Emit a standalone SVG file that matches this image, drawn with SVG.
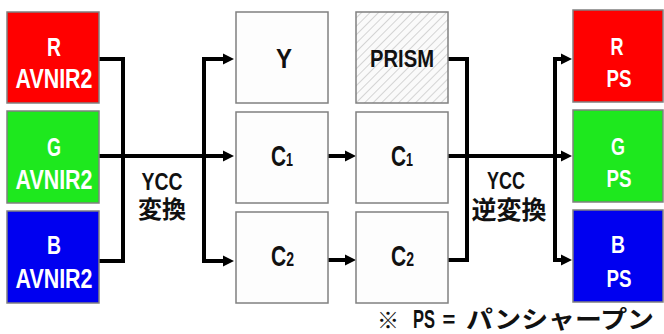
<svg xmlns="http://www.w3.org/2000/svg" width="664" height="334" viewBox="0 0 664 334">
<defs>
<style>
.box{stroke:#808080;stroke-width:1.5}
.wb{fill:#fdfdfd}
.r{fill:#ff0000}
.g{fill:#1ee81e}
.b{fill:#0000f0}
.wt{fill:#ffffff;font-family:"Liberation Sans",Arial,sans-serif;font-weight:bold;text-anchor:middle}
.kt{fill:#111111;font-family:"Liberation Sans",Arial,sans-serif;font-weight:bold;text-anchor:middle}
.cs{fill:#111111;font-family:"Liberation Sans",Arial,sans-serif;font-weight:bold;text-anchor:start;font-size:30px}
.jp{fill:#111111;font-family:"Noto Sans CJK JP","Noto Sans CJK SC",sans-serif;font-weight:bold;text-anchor:middle}
.ln{fill:none;stroke:#000;stroke-width:4;stroke-linejoin:miter}
.ar{marker-end:url(#ah)}
</style>
<marker id="ah" markerUnits="userSpaceOnUse" markerWidth="12" markerHeight="12" refX="4" refY="6" orient="auto">
<path d="M0,0.5 L11,6 L0,11.5 z" fill="#000"/>
</marker>
<pattern id="hatch" patternUnits="userSpaceOnUse" width="6" height="6" patternTransform="rotate(45)">
<rect width="6" height="6" fill="#fafafa"/>
<line x1="0" y1="0" x2="0" y2="6" stroke="#c4c4c4" stroke-width="1.4"/>
</pattern>
</defs>
<rect width="664" height="334" fill="#ffffff"/>

<g id="connectors">
<path class="ln" d="M99,59 H123 V261 H99"/>
<path class="ln ar" d="M99,156 H227"/>
<path class="ln ar" d="M204,156 V59 H227"/>
<path class="ln ar" d="M204,156 V261 H227"/>
<path class="ln ar" d="M328,156 H349"/>
<path class="ln ar" d="M328,260 H349"/>
<path class="ln" d="M448,59 H467 V260 H448"/>
<path class="ln ar" d="M448,156 H565"/>
<path class="ln ar" d="M555,156 V59 H565"/>
<path class="ln ar" d="M555,156 V260 H565"/>
</g>

<g id="R-AVNIR2">
<rect class="box r" x="7" y="12" width="92" height="91"/>
<text class="wt" x="54" y="56" font-size="26" textLength="14" lengthAdjust="spacingAndGlyphs">R</text>
<text class="wt" x="54" y="88" font-size="27" textLength="77" lengthAdjust="spacingAndGlyphs">AVNIR2</text>
</g>
<g id="G-AVNIR2">
<rect class="box g" x="7" y="111" width="92" height="92"/>
<text class="wt" x="54" y="156" font-size="26" textLength="14" lengthAdjust="spacingAndGlyphs">G</text>
<text class="wt" x="54" y="189" font-size="27" textLength="77" lengthAdjust="spacingAndGlyphs">AVNIR2</text>
</g>
<g id="B-AVNIR2">
<rect class="box b" x="7" y="211" width="92" height="92"/>
<text class="wt" x="54" y="254" font-size="26" textLength="14" lengthAdjust="spacingAndGlyphs">B</text>
<text class="wt" x="54" y="288" font-size="27" textLength="77" lengthAdjust="spacingAndGlyphs">AVNIR2</text>
</g>

<g id="label-ycc">
<text class="kt" x="162" y="190" font-size="24" textLength="41" lengthAdjust="spacingAndGlyphs">YCC</text>
<text class="jp" x="162" y="218" font-size="24" textLength="48" lengthAdjust="spacingAndGlyphs">変換</text>
</g>

<g id="Y">
<rect class="box wb" x="236" y="12" width="92" height="91"/>
<text class="kt" x="284" y="68" font-size="28" textLength="16" lengthAdjust="spacingAndGlyphs">Y</text>
</g>
<g id="C1-a">
<rect class="box wb" x="236" y="112" width="92" height="91"/>
<text class="cs" x="271" y="166" textLength="22" lengthAdjust="spacingAndGlyphs">C<tspan font-size="18">1</tspan></text>
</g>
<g id="C2-a">
<rect class="box wb" x="236" y="212" width="92" height="91"/>
<text class="cs" x="271" y="266" textLength="23" lengthAdjust="spacingAndGlyphs">C<tspan font-size="20">2</tspan></text>
</g>

<g id="PRISM">
<rect class="box" x="356" y="12" width="92" height="91" fill="url(#hatch)"/>
<text class="kt" x="402" y="67" font-size="24" textLength="64" lengthAdjust="spacingAndGlyphs" fill="#1a1a1a">PRISM</text>
</g>
<g id="C1-b">
<rect class="box wb" x="356" y="112" width="92" height="91"/>
<text class="cs" x="391" y="166" textLength="22" lengthAdjust="spacingAndGlyphs">C<tspan font-size="18">1</tspan></text>
</g>
<g id="C2-b">
<rect class="box wb" x="356" y="212" width="92" height="91"/>
<text class="cs" x="391" y="266" textLength="23" lengthAdjust="spacingAndGlyphs">C<tspan font-size="20">2</tspan></text>
</g>

<g id="label-ycc-inv">
<text class="kt" x="506" y="189" font-size="24" textLength="38" lengthAdjust="spacingAndGlyphs">YCC</text>
<text class="jp" x="509" y="219" font-size="25" textLength="75" lengthAdjust="spacingAndGlyphs">逆変換</text>
</g>

<g id="R-PS">
<rect class="box r" x="573" y="10" width="90" height="92"/>
<text class="wt" x="617" y="55" font-size="24" textLength="13" lengthAdjust="spacingAndGlyphs">R</text>
<text class="wt" x="619" y="87" font-size="24" textLength="25" lengthAdjust="spacingAndGlyphs">PS</text>
</g>
<g id="G-PS">
<rect class="box g" x="573" y="110" width="90" height="92"/>
<text class="wt" x="618" y="155" font-size="24" textLength="14" lengthAdjust="spacingAndGlyphs">G</text>
<text class="wt" x="619" y="187" font-size="24" textLength="25" lengthAdjust="spacingAndGlyphs">PS</text>
</g>
<g id="B-PS">
<rect class="box b" x="573" y="210" width="90" height="92"/>
<text class="wt" x="618" y="253" font-size="24" textLength="14" lengthAdjust="spacingAndGlyphs">B</text>
<text class="wt" x="619" y="287" font-size="24" textLength="25" lengthAdjust="spacingAndGlyphs">PS</text>
</g>

<g id="note">
<text class="jp" x="388" y="328" font-size="22">※</text>
<text class="kt" x="424" y="328" font-size="26" textLength="22" lengthAdjust="spacingAndGlyphs">PS</text>
<text class="kt" x="449" y="327" font-size="22">=</text>
<text class="jp" x="560" y="328" font-size="24" font-weight="500" textLength="188" lengthAdjust="spacingAndGlyphs">パンシャープン</text>
</g>
</svg>
